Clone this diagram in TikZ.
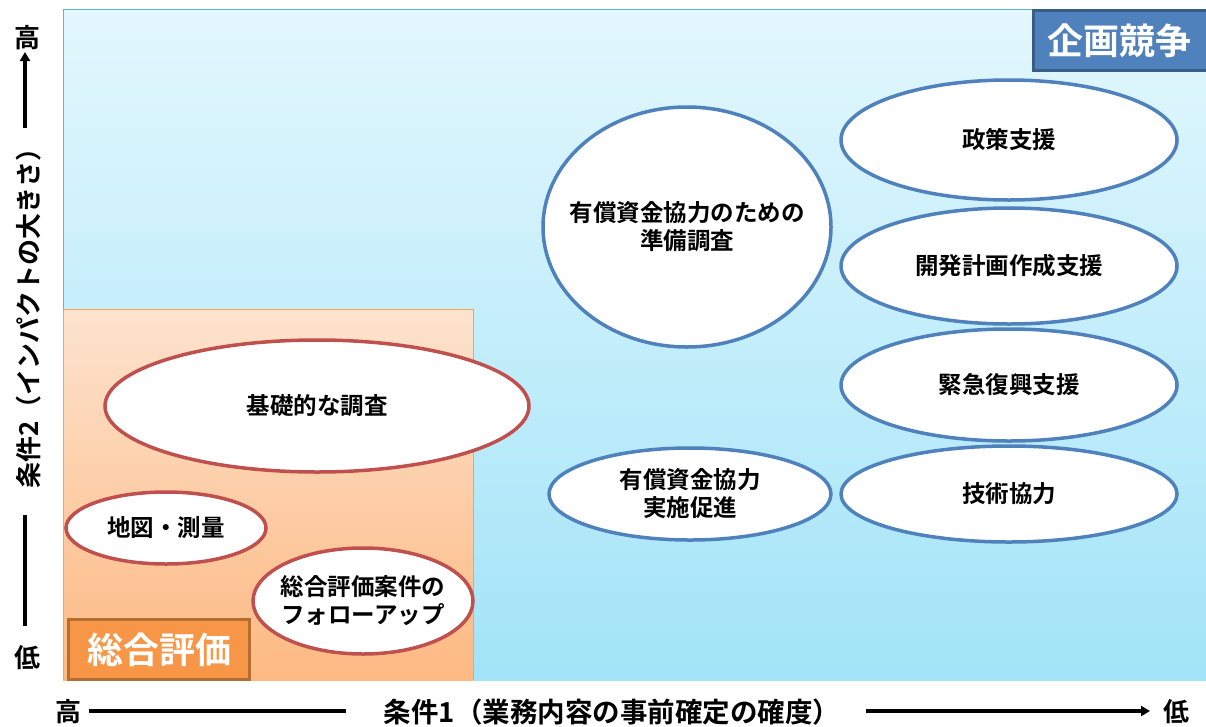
\documentclass[tikz,border=0pt]{standalone}
\usepackage{fontspec}
\setmainfont{Noto Sans CJK JP}[BoldFont={* Bold}]
\usetikzlibrary{shapes.geometric,arrows.meta}
\definecolor{bluetop}{HTML}{E3F7FD}
\definecolor{bluebot}{HTML}{A2E4F8}
\definecolor{blueedge}{HTML}{5BB6CC}
\definecolor{orgtop}{HTML}{FDE3CE}
\definecolor{orgbot}{HTML}{FDB982}
\definecolor{orgedge}{HTML}{F5A25E}
\definecolor{ellblue}{HTML}{4F81BD}
\definecolor{ellred}{HTML}{C0504D}
\definecolor{badgeblue}{HTML}{4F81BD}
\definecolor{badgeblueedge}{HTML}{385D8A}
\definecolor{badgeorg}{HTML}{F79646}
\definecolor{badgeorgedge}{HTML}{B66D31}
\tikzset{
  oval/.style={ellipse, draw, fill=white, line width=3.5pt, inner sep=-60pt,
    align=center, font=\fontsize{23.5}{28}\selectfont\bfseries},
  blueoval/.style={oval, draw=ellblue},
  redoval/.style={oval, draw=ellred},
  badge/.style={draw, line width=3pt, text=white, inner sep=0pt,
    font=\fontsize{36}{36}\selectfont\bfseries},
  axislabel/.style={font=\fontsize{26}{26}\selectfont\bfseries, inner sep=0pt},
  axisline/.style={line width=3.5pt}
}
\begin{document}
\begin{tikzpicture}[x=1pt,y=-1pt]
\useasboundingbox (0,0) rectangle (1206,726);
% blue area
\shade[top color=bluetop, bottom color=bluebot] (63,9) rectangle (1206,680);
\draw[blueedge, line width=1pt] (63,680) -- (63,9) -- (1206,9);
% orange area
\shade[top color=orgtop, bottom color=orgbot] (63,309) rectangle (473,680);
\draw[orgedge, line width=1pt] (63,680) -- (63,309) -- (473,309) -- (473,680);
% badges
\node[badge, fill=badgeblue, draw=badgeblueedge, minimum width=180pt, minimum height=60pt, anchor=north west] (kikaku) at (1032,9) {\hspace*{-8pt}企画競争};
\node[badge, fill=badgeorg, draw=badgeorgedge, minimum width=181pt, minimum height=60pt, anchor=north west] (sogo) at (67,618) {総合評価};
% blue ellipses
\node[blueoval, minimum width=288pt, minimum height=240pt] (junbi) at (687,227) {有償資金協力のための\\準備調査};
\node[blueoval, minimum width=336pt, minimum height=120pt] (seisaku) at (1009,140) {政策支援};
\node[blueoval, minimum width=336pt, minimum height=116pt] (kaihatsu) at (1009,266) {開発計画作成支援};
\node[blueoval, minimum width=336pt, minimum height=112pt] (kinkyu) at (1009,385) {緊急復興支援};
\node[blueoval, minimum width=336pt, minimum height=96pt] (gijutsu) at (1009,494) {技術協力};
\node[blueoval, minimum width=282pt, minimum height=92pt] (jisshi) at (690,494) {有償資金協力\\実施促進};
% red ellipses
\node[redoval, minimum width=424pt, minimum height=132pt] (kiso) at (317,406) {基礎的な調査};
\node[redoval, minimum width=200pt, minimum height=72pt] (chizu) at (166,528) {地図・測量};
\node[redoval, minimum width=220pt, minimum height=106pt] (follow) at (363,601) {総合評価案件の\\フォローアップ};
% y axis
\node[axislabel] (yhigh) at (27,38) {高};
\node[axislabel] (ylow) at (27,658) {低};
\node[axislabel, rotate=90] (ylabel) at (29,312) {条件2（インパクトの大きさ）};
\coordinate (ya1) at (25,128);
\coordinate (ya2) at (25,52);
\coordinate (yb1) at (25,515);
\coordinate (yb2) at (25,626);
\draw[axisline, -{Triangle[length=9pt,width=10pt]}] (ya1) -- (ya2);
\draw[axisline] (yb1) -- (yb2);
% x axis
\node[axislabel] (xhigh) at (68,712) {高};
\node[axislabel] (xlow) at (1176,712) {低};
\node[axislabel, font=\fontsize{27.5}{27.5}\selectfont\bfseries] (xlabel) at (612,712) {条件1（業務内容の事前確定の確度）};
\coordinate (xa1) at (89,711);
\coordinate (xa2) at (346,711);
\coordinate (xb1) at (866,711);
\coordinate (xb2) at (1150,711);
\draw[axisline] (xa1) -- (xa2);
\draw[axisline, -{Triangle[length=9pt,width=10pt]}] (xb1) -- (xb2);
\end{tikzpicture}
\end{document}
